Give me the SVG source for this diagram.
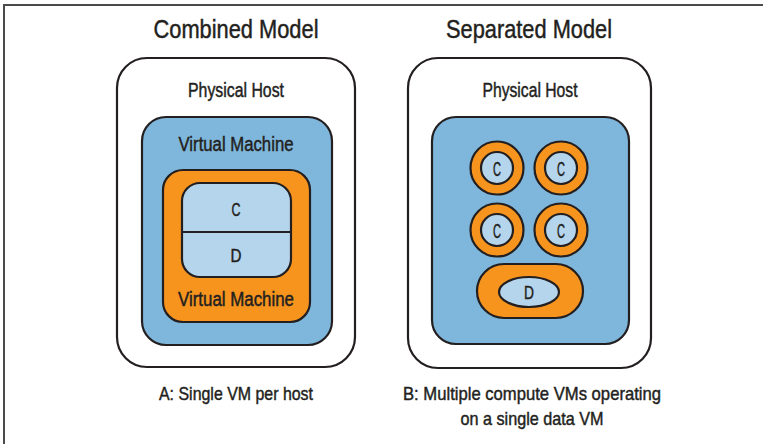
<svg xmlns="http://www.w3.org/2000/svg" width="763" height="444" viewBox="0 0 763 444">
<style>
text{font-family:"Liberation Sans Narrow","Liberation Sans",Arial,sans-serif;fill:#231f20;stroke:#231f20;stroke-width:0.45;text-anchor:middle}
.host{fill:#fff;stroke:#231f20;stroke-width:2.2}
.vm{fill:#7fb7dc;stroke:#231f20;stroke-width:2.2}
.or{fill:#f7941e;stroke:#231f20;stroke-width:2.2}
.lb{fill:#b5d5ec;stroke:#231f20;stroke-width:2.2}
.t1{font-size:26px}
.t2{font-size:19.5px}
.t3{font-size:18.5px}
.t4{font-size:21px}
.t5{font-size:19px}
</style>
<rect width="763" height="444" fill="#fff"/>
<path d="M4,444 V5 H763" fill="none" stroke="#4a4a4a" stroke-width="2"/>
<g id="title-combined"><text class="t1" x="236" y="38" textLength="165" lengthAdjust="spacingAndGlyphs">Combined Model</text></g>
<g id="title-separated"><text class="t1" x="529" y="38" textLength="166" lengthAdjust="spacingAndGlyphs">Separated Model</text></g>
<g id="hostA">
<rect class="host" x="117" y="58" width="238" height="309" rx="30"/>
<text class="t2" x="236" y="97" textLength="96" lengthAdjust="spacingAndGlyphs">Physical Host</text>
</g>
<g id="vmA-outer">
<rect class="vm" x="142" y="117" width="190" height="228" rx="24"/>
<text class="t2" x="236" y="151" textLength="115" lengthAdjust="spacingAndGlyphs">Virtual Machine</text>
</g>
<g id="vmA-inner">
<rect class="or" x="163" y="170" width="147" height="152" rx="20"/>
<text class="t2" x="236" y="306" textLength="116" lengthAdjust="spacingAndGlyphs">Virtual Machine</text>
</g>
<g id="cdA">
<rect class="lb" x="182" y="183" width="109" height="94" rx="18"/>
<line x1="182" y1="232" x2="291" y2="232" stroke="#231f20" stroke-width="2.2"/>
<text class="t5" x="236" y="216" textLength="9" lengthAdjust="spacingAndGlyphs">C</text>
<text class="t5" x="236" y="262" textLength="11" lengthAdjust="spacingAndGlyphs">D</text>
</g>
<g id="hostB">
<rect class="host" x="408" y="58" width="243" height="310" rx="30"/>
<text class="t2" x="530" y="97" textLength="95" lengthAdjust="spacingAndGlyphs">Physical Host</text>
</g>
<g id="vmB">
<rect class="vm" x="432" y="117" width="197" height="227" rx="24"/>
</g>
<g id="c1"><circle class="or" cx="497" cy="168" r="26.5"/><circle class="lb" cx="497" cy="168" r="16"/><text class="t4" x="497" y="175.5" textLength="8" lengthAdjust="spacingAndGlyphs">C</text></g>
<g id="c2"><circle class="or" cx="561" cy="168" r="26.5"/><circle class="lb" cx="561" cy="168" r="16"/><text class="t4" x="561" y="175.5" textLength="8" lengthAdjust="spacingAndGlyphs">C</text></g>
<g id="c3"><circle class="or" cx="497" cy="230" r="26.5"/><circle class="lb" cx="497" cy="230" r="16"/><text class="t4" x="497" y="237.5" textLength="8" lengthAdjust="spacingAndGlyphs">C</text></g>
<g id="c4"><circle class="or" cx="561" cy="230" r="26.5"/><circle class="lb" cx="561" cy="230" r="16"/><text class="t4" x="561" y="237.5" textLength="8" lengthAdjust="spacingAndGlyphs">C</text></g>
<g id="d1"><rect class="or" x="477" y="264" width="106" height="54" rx="27"/><ellipse class="lb" cx="529" cy="292" rx="30" ry="15"/><text class="t5" x="529" y="298.5" textLength="10" lengthAdjust="spacingAndGlyphs">D</text></g>
<g id="captionA"><text class="t3" x="236" y="400" textLength="154" lengthAdjust="spacingAndGlyphs">A: Single VM per host</text></g>
<g id="captionB">
<text class="t3" x="532" y="400" textLength="258" lengthAdjust="spacingAndGlyphs">B: Multiple compute VMs operating</text>
<text class="t3" x="532" y="425" textLength="143" lengthAdjust="spacingAndGlyphs">on a single data VM</text>
</g>
<g id="connectors"></g>
</svg>
